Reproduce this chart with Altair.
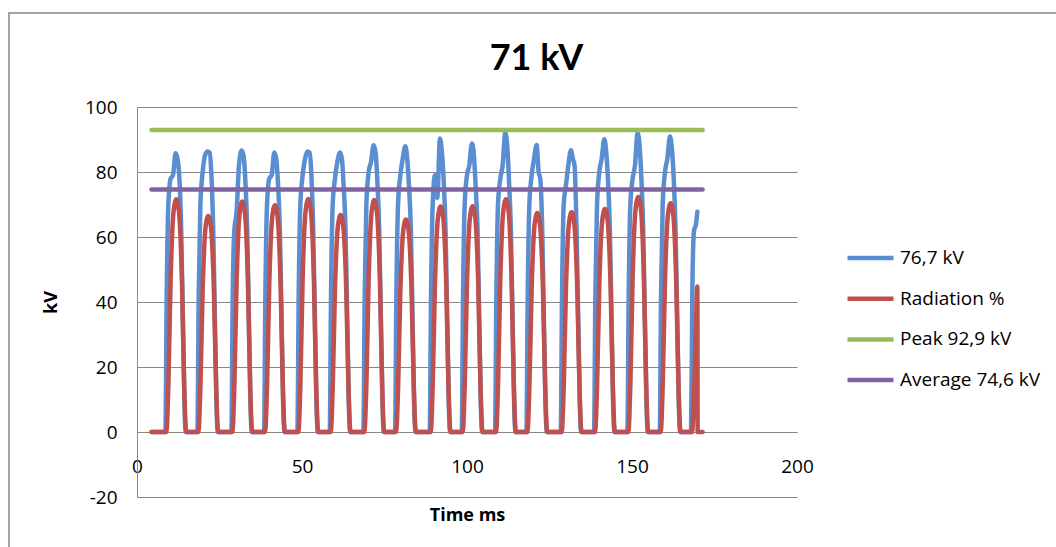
import altair as alt
import pandas as pd

# ---------------- data ----------------
series_names = ["76,7 kV", "Radiation %", "Peak 92,9 kV", "Average 74,6 kV"]
series_colors = ["#5A8ED0", "#C0504D", "#9BBB59", "#8064A2"]

x_ticks = [0, 50, 100, 150, 200]
y_ticks = [-20, 0, 20, 40, 60, 80, 100]

blue_time = [
    4.4,
    8.6, 9.0, 9.5, 10.2, 10.9, 11.7, 12.3, 12.8, 13.4, 13.9, 14.4, 14.8,
    18.3, 18.7, 19.2, 19.9, 20.6, 21.4, 22.0, 22.5, 23.1, 23.6, 24.1, 24.5,
    28.6, 29.0, 29.5, 30.2, 30.9, 31.7, 32.3, 32.8, 33.4, 33.9, 34.4, 34.8,
    38.5, 38.9, 39.4, 40.1, 40.8, 41.6, 42.2, 42.7, 43.3, 43.8, 44.3, 44.7,
    48.6, 49.0, 49.5, 50.2, 50.9, 51.7, 52.3, 52.8, 53.4, 53.9, 54.4, 54.8,
    58.4, 58.8, 59.3, 60.0, 60.7, 61.5, 62.1, 62.6, 63.2, 63.7, 64.2, 64.6,
    68.6, 69.0, 69.5, 70.2, 70.9, 71.7, 72.3, 72.8, 73.4, 73.9, 74.4, 74.8,
    78.2, 78.6, 79.1, 79.8, 80.5, 81.3, 81.9, 82.4, 83.0, 83.5, 84.0, 84.4,
    88.7, 89.1, 89.6, 90.3, 91.0, 91.8, 92.4, 92.9, 93.5, 94.0, 94.5, 94.9,
    98.4, 98.8, 99.3, 100.0, 100.7, 101.5, 102.1, 102.6, 103.2, 103.7, 104.2, 104.6,
    108.5, 108.9, 109.4, 110.1, 110.8, 111.6, 112.2, 112.7, 113.3, 113.8, 114.3, 114.7,
    118.0, 118.4, 118.9, 119.6, 120.3, 121.1, 121.7, 122.2, 122.8, 123.3, 123.8, 124.2,
    128.4, 128.8, 129.3, 130.0, 130.7, 131.5, 132.1, 132.6, 133.2, 133.7, 134.2, 134.6,
    138.5, 138.9, 139.4, 140.1, 140.8, 141.6, 142.2, 142.7, 143.3, 143.8, 144.3, 144.7,
    148.6, 149.0, 149.5, 150.2, 150.9, 151.7, 152.3, 152.8, 153.4, 153.9, 154.4, 154.8,
    158.4, 158.8, 159.3, 160.0, 160.7, 161.5, 162.1, 162.6, 163.2, 163.7, 164.2, 164.6,
    167.9, 168.3, 168.8, 169.4, 169.8,
]
blue_kv = [
    0,
    0, 42, 70, 78, 79, 85.8, 84, 79, 62, 35, 8, 0,
    0, 42, 70, 80, 85, 86.3, 86, 80, 62, 35, 8, 0,
    0, 42, 62, 68, 82, 86.6, 85, 78, 62, 35, 8, 0,
    0, 42, 70, 78, 79, 86.0, 84, 77, 62, 35, 8, 0,
    0, 42, 70, 79, 84, 86.3, 86, 80, 62, 35, 8, 0,
    0, 42, 70, 78, 83, 86.0, 84, 76, 62, 35, 8, 0,
    0, 42, 70, 80, 83, 88.2, 86, 78, 62, 35, 8, 0,
    0, 42, 70, 79, 84, 87.9, 84, 76, 62, 35, 8, 0,
    0, 42, 70, 79, 72, 90.3, 86, 78, 62, 35, 8, 0,
    0, 42, 70, 79, 82, 88.8, 85, 76, 62, 35, 8, 0,
    0, 42, 70, 78, 82, 92.0, 88, 78, 62, 35, 8, 0,
    0, 42, 70, 79, 84, 88.3, 80, 78, 62, 35, 8, 0,
    0, 42, 70, 76, 82, 86.7, 84, 82, 62, 35, 8, 0,
    0, 42, 70, 80, 84, 90.1, 86, 78, 62, 35, 8, 0,
    0, 42, 70, 78, 82, 92.0, 88, 79, 62, 35, 8, 0,
    0, 42, 70, 80, 84, 90.9, 87, 79, 62, 35, 8, 0,
    0, 45, 62, 64, 67.8,
]

red_time = [
    4.4,
    8.9, 9.5, 10.2, 11.1, 11.9, 12.7, 13.6, 14.3, 14.9,
    18.6, 19.2, 19.9, 20.8, 21.6, 22.4, 23.3, 24.0, 24.6,
    28.9, 29.5, 30.2, 31.1, 31.9, 32.7, 33.6, 34.3, 34.9,
    38.8, 39.4, 40.1, 41.0, 41.8, 42.6, 43.5, 44.2, 44.8,
    48.9, 49.5, 50.2, 51.1, 51.9, 52.7, 53.6, 54.3, 54.9,
    58.7, 59.3, 60.0, 60.9, 61.7, 62.5, 63.4, 64.1, 64.7,
    68.9, 69.5, 70.2, 71.1, 71.9, 72.7, 73.6, 74.3, 74.9,
    78.5, 79.1, 79.8, 80.7, 81.5, 82.3, 83.2, 83.9, 84.5,
    89.0, 89.6, 90.3, 91.2, 92.0, 92.8, 93.7, 94.4, 95.0,
    98.7, 99.3, 100.0, 100.9, 101.7, 102.5, 103.4, 104.1, 104.7,
    108.8, 109.4, 110.1, 111.0, 111.8, 112.6, 113.5, 114.2, 114.8,
    118.3, 118.9, 119.6, 120.5, 121.3, 122.1, 123.0, 123.7, 124.3,
    128.7, 129.3, 130.0, 130.9, 131.7, 132.5, 133.4, 134.1, 134.7,
    138.8, 139.4, 140.1, 141.0, 141.8, 142.6, 143.5, 144.2, 144.8,
    148.9, 149.5, 150.2, 151.1, 151.9, 152.7, 153.6, 154.3, 154.9,
    158.7, 159.3, 160.0, 160.9, 161.7, 162.5, 163.4, 164.1, 164.7,
    168.2, 168.8, 169.4, 169.8, 169.9, 171.4,
]
red_pct = [
    0,
    0, 14.3, 47.3, 68.0, 71.6, 68.0, 47.3, 14.3, 0,
    0, 13.3, 43.9, 63.2, 66.5, 63.2, 43.9, 13.3, 0,
    0, 14.2, 46.8, 67.4, 70.9, 67.4, 46.8, 14.2, 0,
    0, 14.0, 46.1, 66.3, 69.8, 66.3, 46.1, 14.0, 0,
    0, 14.3, 47.3, 68.1, 71.7, 68.1, 47.3, 14.3, 0,
    0, 13.4, 44.1, 63.5, 66.8, 63.5, 44.1, 13.4, 0,
    0, 14.3, 47.1, 67.8, 71.4, 67.8, 47.1, 14.3, 0,
    0, 13.1, 43.2, 62.1, 65.4, 62.1, 43.2, 13.1, 0,
    0, 13.9, 45.8, 65.9, 69.4, 65.9, 45.8, 13.9, 0,
    0, 13.9, 45.9, 66.0, 69.5, 66.0, 45.9, 13.9, 0,
    0, 14.3, 47.3, 68.0, 71.6, 68.0, 47.3, 14.3, 0,
    0, 13.5, 44.5, 64.0, 67.4, 64.0, 44.5, 13.5, 0,
    0, 13.5, 44.6, 64.2, 67.6, 64.2, 44.6, 13.5, 0,
    0, 13.7, 45.3, 65.2, 68.6, 65.2, 45.3, 13.7, 0,
    0, 14.5, 47.7, 68.7, 72.3, 68.7, 47.7, 14.5, 0,
    0, 14.1, 46.5, 66.9, 70.4, 66.9, 46.5, 14.1, 0,
    0, 12, 33, 44.8, 0, 0,
]

ref_time = [4.4, 171.4]
peak_kv = [92.9, 92.9]
avg_kv = [74.6, 74.6]

# ---------------- tables ----------------
df_blue = pd.DataFrame({"t": blue_time, "v": blue_kv, "series": series_names[0]})
df_red = pd.DataFrame({"t": red_time, "v": red_pct, "series": series_names[1]})
df_peak = pd.DataFrame({"t": ref_time, "v": peak_kv, "series": series_names[2]})
df_avg = pd.DataFrame({"t": ref_time, "v": avg_kv, "series": series_names[3]})

FONT = "Open Sans"
GRID = "#878787"

x_enc = alt.X(
    "t:Q",
    scale=alt.Scale(domain=[0, 200], nice=False, zero=False),
    axis=alt.Axis(
        values=x_ticks, title="Time ms", grid=False, ticks=False,
        domain=True, domainColor=GRID, domainWidth=1, offset=-65,
        labelFlush=False, labelPadding=25, labelFont=FONT,
        labelFontSize=19, labelColor="#000",
        labelExpr="'' + datum.value",
        titleFont=FONT, titleFontSize=18, titleFontWeight="bold",
        titleColor="#000", titlePadding=30,
    ),
)
y_enc = alt.Y(
    "v:Q",
    scale=alt.Scale(domain=[-20, 100], nice=False, zero=False),
    axis=alt.Axis(
        values=y_ticks, title="kV", grid=True, gridColor=GRID, gridWidth=1,
        gridOpacity=1, ticks=False, domain=True, domainColor=GRID,
        domainWidth=1, labelPadding=20, labelFont=FONT, labelFontSize=19,
        labelColor="#000", labelExpr="'' + datum.value",
        titleFont=FONT, titleFontSize=18, titleFontWeight="bold",
        titleColor="#000", titlePadding=24,
    ),
)
color_enc = alt.Color(
    "series:N",
    scale=alt.Scale(domain=series_names, range=series_colors),
    legend=alt.Legend(
        title=None, orient="none", legendX=708, legendY=136,
        symbolType="stroke", symbolSize=2116, symbolStrokeWidth=4.5,
        labelFont=FONT, labelFontSize=19, labelColor="#000",
        labelOffset=4, padding=0, rowPadding=10.7, clipHeight=30,
        labelLimit=300,
    ),
)


def line_layer(df):
    return alt.Chart(df).mark_line(
        strokeWidth=4.5, interpolate="monotone",
        strokeCap="round", strokeJoin="round",
    ).encode(x=x_enc, y=y_enc, color=color_enc)


frame = alt.Chart(alt.Data(values=[{"a": 1}])).mark_rect(
    fill="transparent", stroke="#a3a3a3", strokeWidth=2
).encode(
    x=alt.value(-128), x2=alt.value(940),
    y=alt.value(-94), y2=alt.value(460),
)

chart = alt.layer(
    frame,
    line_layer(df_blue),
    line_layer(df_red),
    line_layer(df_peak),
    line_layer(df_avg),
).properties(
    width=660,
    height=390,
    background="white",
    autosize=alt.AutoSizeParams(type="none"),
    padding={"left": 137, "top": 107, "right": 259, "bottom": 50},
    title=alt.Title(
        "71 kV", font="Lato", fontSize=36, fontWeight="bold", color="#000",
        anchor="middle", frame="group", dx=69.5, offset=-94,
        baseline="alphabetic",
    ),
).configure_view(
    stroke="transparent", strokeWidth=0
)

chart.save("out.html", embed_options={"renderer": "svg", "actions": False})
